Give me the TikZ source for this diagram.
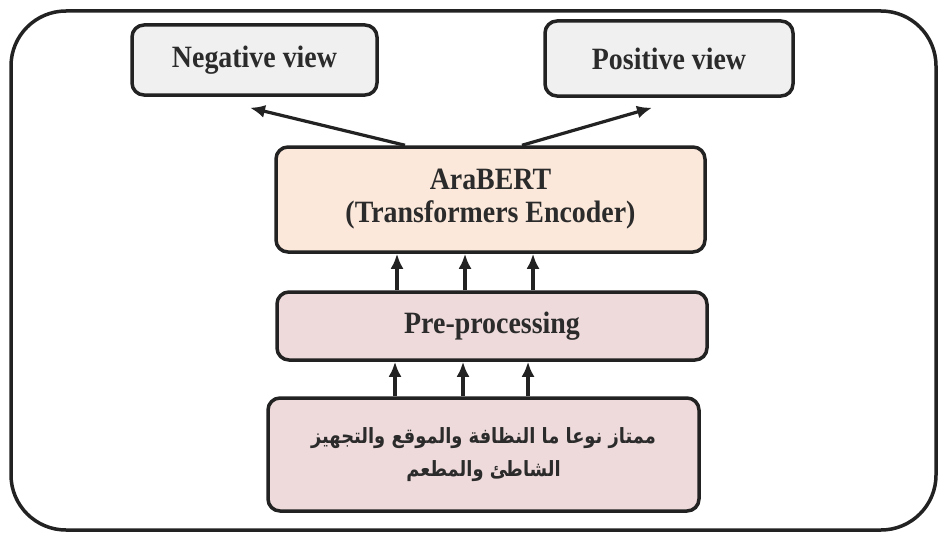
\documentclass[tikz,border=0pt]{standalone}
\usepackage{fontspec}
\setmainfont{Liberation Serif}[FakeStretch=0.9]
\newfontfamily\arabicfont[Script=Arabic,FakeStretch=0.85]{DejaVu Sans}
\TeXXeTstate=1
\usetikzlibrary{arrows.meta,calc}
\definecolor{edge}{HTML}{222222}
\definecolor{viewfill}{HTML}{F0F0F0}
\definecolor{bertfill}{HTML}{FBE8DA}
\definecolor{prefill}{HTML}{EEDADB}
\definecolor{txt}{HTML}{2B2B2B}
\begin{document}
\begin{tikzpicture}[x=1pt,y=-1pt,
  box/.style={draw=edge, line width=3.5pt, rounded corners=12pt, align=center,
    inner sep=0pt, text=txt, font=\fontsize{31}{33}\selectfont\bfseries},
  arr/.style={draw=edge, line width=3.2pt, -{Latex[length=15pt,width=13pt]}}]
\useasboundingbox (0,0) rectangle (941,535);
% outer frame
\draw[edge, line width=3.5pt, rounded corners=55pt] (11,11) rectangle (936,530);
% output views
\node[box, fill=viewfill, minimum width=245pt, minimum height=70pt] (neg) at (254.5,60) {Negative view};
\node[box, fill=viewfill, minimum width=248pt, minimum height=75pt] (pos) at (669,58.5) {Positive view};
% encoder
\node[box, fill=bertfill, minimum width=429pt, minimum height=105pt] (bert) at (490.5,199.5)
  {AraBERT\\(Transformers Encoder)};
% pre-processing
\node[box, fill=prefill, minimum width=430pt, minimum height=68pt] (pre) at (492,326) {Pre-processing};
% input sentence
\node[box, fill=prefill, minimum width=431pt, minimum height=113pt,
  font=\arabicfont\fontsize{21}{33}\selectfont\bfseries] (arab) at (483.5,454.5)
  {\beginR ممتاز نوعا ما النظافة والموقع والتجهيز\endR\\\beginR الشاطئ والمطعم\endR};
% encoder to views
\draw[arr] ([xshift=-85.5pt]bert.north) -- ([xshift=-4.5pt,yshift=-11pt]neg.south);
\draw[arr] ([xshift=31.5pt]bert.north) -- ([xshift=-17pt,yshift=-10pt]pos.south);
% pre-processing to encoder
\foreach \dx [count=\i] in {-95,-27,41}{
  \path ($(pre.north)+(\dx,0)$) coordinate (u\i);
  \draw[arr] (u\i) -- (u\i |- bert.south);
}
% input to pre-processing
\foreach \dx [count=\i] in {-88.5,-20.5,44.5}{
  \path ($(arab.north)+(\dx,0)$) coordinate (l\i);
  \draw[arr] (l\i) -- (l\i |- pre.south);
}
\end{tikzpicture}
\end{document}
